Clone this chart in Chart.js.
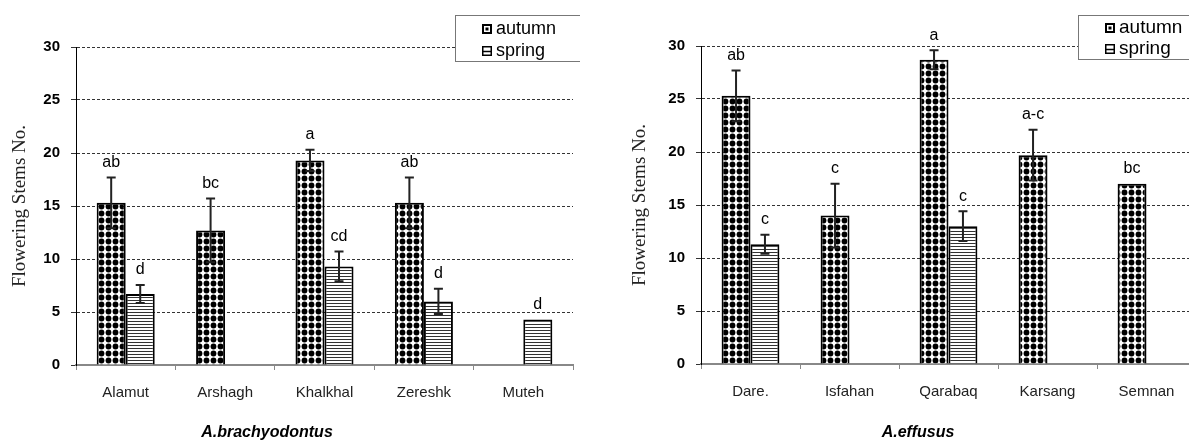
<!DOCTYPE html>
<html>
<head>
<meta charset="utf-8">
<script src="https://cdn.jsdelivr.net/npm/chart.js@4.4.0/dist/chart.umd.min.js"></script>
<style>
html, body { margin: 0; padding: 0; background: #fff; overflow: hidden; width: 1189px; height: 444px; }
#left { position: absolute; left: 0; top: 0; }
#right { position: absolute; left: 610px; top: 0; }
</style>
</head>
<body>
<canvas id="left" width="580" height="444"></canvas>
<canvas id="right" width="600" height="444"></canvas>
<script>
// A.brachyodontus
const brachyCats = ['Alamut', 'Arshagh', 'Khalkhal', 'Zereshk', 'Muteh']
const brachyAutumn = [15.3, 12.7, 19.3, 15.3, null]
const brachyAutumnErr = [2.4, 3.0, 1.0, 2.4, 0]
const brachyAutumnLetters = ['ab', 'bc', 'a', 'ab', '']
const brachySpring = [6.7, null, 9.3, 6.0, 4.3]
const brachySpringErr = [0.85, 0, 1.4, 1.2, 0]
const brachySpringLetters = ['d', '', 'cd', 'd', 'd']

// A.effusus
const effususCats = ['Dare.', 'Isfahan', 'Qarabaq', 'Karsang', 'Semnan']
const effususAutumn = [25.3, 14.0, 28.7, 19.7, 17.0]
const effususAutumnErr = [2.4, 3.0, 0.9, 2.4, 0]
const effususAutumnLetters = ['ab', 'c', 'a', 'a-c', 'bc']
const effususSpring = [11.3, null, 13.0, null, null]
const effususSpringErr = [0.9, 0, 1.4, 0, 0]
const effususSpringLetters = ['c', '', 'c', '', '']

const yMin = 0, yMax = 30, yStep = 5
const yTitle = 'Flowering Stems No.'

const makeDots = () => {
    const c = document.createElement('canvas')
    c.width = 7; c.height = 7
    const g = c.getContext('2d')
    g.fillStyle = '#fff'; g.fillRect(0, 0, 7, 7)
    g.fillStyle = '#000'
    g.beginPath(); g.arc(3.5, 3.5, 2.9, 0, Math.PI * 2); g.fill()
    return g.createPattern(c, 'repeat')
}
const makeStripes = () => {
    const c = document.createElement('canvas')
    c.width = 4; c.height = 3
    const g = c.getContext('2d')
    g.fillStyle = '#fff'; g.fillRect(0, 0, 4, 3)
    g.fillStyle = '#333'; g.fillRect(0, 0, 4, 1)
    return g.createPattern(c, 'repeat')
}

const errorBars = {
    id: 'errorBars',
    afterDatasetsDraw(chart) {
        const ctx = chart.ctx
        const yS = chart.scales.y
        ctx.save()
        chart.data.datasets.forEach((ds, di) => {
            const meta = chart.getDatasetMeta(di)
            meta.data.forEach((bar, i) => {
                const v = ds.data[i]
                if (v == null) return
                const e = ds.errors[i] || 0
                let top = bar.y
                if (e > 0) {
                    const yt = yS.getPixelForValue(v + e)
                    const yb = yS.getPixelForValue(v - e)
                    ctx.strokeStyle = '#222'
                    ctx.lineWidth = 2
                    ctx.beginPath()
                    ctx.moveTo(bar.x, yt); ctx.lineTo(bar.x, yb)
                    ctx.moveTo(bar.x - 4.5, yt); ctx.lineTo(bar.x + 4.5, yt)
                    ctx.moveTo(bar.x - 4.5, yb); ctx.lineTo(bar.x + 4.5, yb)
                    ctx.stroke()
                    top = Math.min(top, yt)
                }
                if (ds.letters[i]) {
                    ctx.fillStyle = '#000'
                    ctx.font = '16px "Liberation Sans", Arial, sans-serif'
                    ctx.textAlign = 'center'
                    ctx.textBaseline = 'middle'
                    ctx.fillText(ds.letters[i], bar.x, top - 15)
                }
            })
        })
        ctx.restore()
    }
}

const legendBox = {
    id: 'legendBox',
    afterDraw(chart, args, opts) {
        const ctx = chart.ctx
        const x = chart.chartArea.right - 118
        const y = 15
        ctx.save()
        ctx.fillStyle = '#fff'
        ctx.fillRect(x, y, 300, opts.h)
        ctx.strokeStyle = '#777'
        ctx.lineWidth = 1
        ctx.strokeRect(x + 0.5, y + 0.5, 300, opts.h)
        ctx.font = opts.font
        ctx.textBaseline = 'middle'
        ctx.textAlign = 'left'
        chart.data.datasets.forEach((ds, i) => {
            const cy = y + opts.rows[i]
            const ix = x + 27
            if (i === 0) {
                ctx.fillStyle = '#000'; ctx.fillRect(ix, cy - 5, 10, 10)
                ctx.fillStyle = '#fff'; ctx.fillRect(ix + 2, cy - 3, 6, 6)
                ctx.fillStyle = '#000'; ctx.fillRect(ix + 3.5, cy - 1.5, 3, 3)
            } else {
                ctx.strokeStyle = '#000'; ctx.lineWidth = 1.5
                ctx.strokeRect(ix + 0.75, cy - 4.25, 8.5, 8.5)
                ctx.beginPath(); ctx.moveTo(ix + 1, cy + 0.5); ctx.lineTo(ix + 9, cy + 0.5); ctx.stroke()
            }
            ctx.fillStyle = '#000'
            ctx.fillText(ds.label, ix + 14, cy)
        })
        ctx.restore()
    }
}

const bottomTitle = {
    id: 'bottomTitle',
    afterDraw(chart, args, opts) {
        const ctx = chart.ctx
        ctx.save()
        ctx.fillStyle = '#000'
        ctx.font = 'italic bold 16px "Liberation Sans", Arial, sans-serif'
        ctx.textAlign = 'center'
        ctx.textBaseline = 'middle'
        ctx.fillText(opts.text, opts.x, 433)
        ctx.restore()
    }
}

const buildChart = (id, cats, autumn, autumnErr, autumnLetters, spring, springErr, springLetters, o) => {
    const ctx = document.getElementById(id).getContext('2d')
    return new Chart(ctx, {
        type: 'bar',
        data: {
            labels: cats,
            datasets: [{
                label: 'autumn',
                data: autumn,
                errors: autumnErr,
                letters: autumnLetters,
                backgroundColor: makeDots(),
                borderColor: '#000',
                borderWidth: 2,
            }, {
                label: 'spring',
                data: spring,
                errors: springErr,
                letters: springLetters,
                backgroundColor: makeStripes(),
                borderColor: '#000',
                borderWidth: 2,
            }]
        },
        options: {
            responsive: false,
            animation: false,
            categoryPercentage: 0.584,
            barPercentage: 1.0,
            layout: { padding: { top: o.top, right: o.right, bottom: o.bottom, left: 0 } },
            plugins: {
                legend: { display: false },
                tooltip: { enabled: false },
                legendBox: { h: o.legendH, rows: o.rows, font: o.legendFont },
                bottomTitle: { text: o.title, x: o.titleX },
            },
            scales: {
                x: {
                    afterFit: (s) => { s.height = 60 },
                    grid: { drawOnChartArea: false, drawTicks: true, tickLength: 5, color: '#888', offset: true },
                    border: { display: true, color: '#888', width: 2 },
                    ticks: { color: '#222', font: { family: '"Liberation Sans", Arial', size: 15 }, padding: 14, maxRotation: 0, autoSkip: false },
                },
                y: {
                    min: yMin, max: yMax,
                    afterFit: (s) => { s.width = o.yWidth },
                    grid: {
                        color: (c) => c.tick && c.tick.value === 0 ? 'rgba(0,0,0,0)' : '#333',
                        lineWidth: 1,
                        tickLength: 5,
                        tickColor: '#333',
                    },
                    border: { display: true, color: '#000', width: 1, dash: [3, 2] },
                    ticks: { stepSize: yStep, color: '#000', padding: 11, font: { family: '"Liberation Sans", Arial', size: 15, weight: 'bold' } },
                    title: { display: true, text: yTitle, color: '#222', padding: { top: o.yTitlePad, bottom: 0 }, font: { family: '"Liberation Serif", "Times New Roman", serif', size: 19, weight: 'normal' } },
                }
            }
        },
        plugins: [errorBars, legendBox, bottomTitle]
    })
}

buildChart('left', brachyCats, brachyAutumn, brachyAutumnErr, brachyAutumnLetters,
    brachySpring, brachySpringErr, brachySpringLetters,
    { top: 47, right: 7, bottom: 19, yWidth: 76, yTitlePad: 9, legendH: 46, rows: [14, 36], legendFont: '18px "Liberation Sans", Arial, sans-serif', title: 'A.brachyodontus', titleX: 267 })

buildChart('right', effususCats, effususAutumn, effususAutumnErr, effususAutumnLetters,
    effususSpring, effususSpringErr, effususSpringLetters,
    { top: 46, right: 14, bottom: 20, yWidth: 91, yTitlePad: 19, legendH: 44, rows: [13, 34], legendFont: '19px "Liberation Sans", Arial, sans-serif', title: 'A.effusus', titleX: 308 })
</script>
</body>
</html>
